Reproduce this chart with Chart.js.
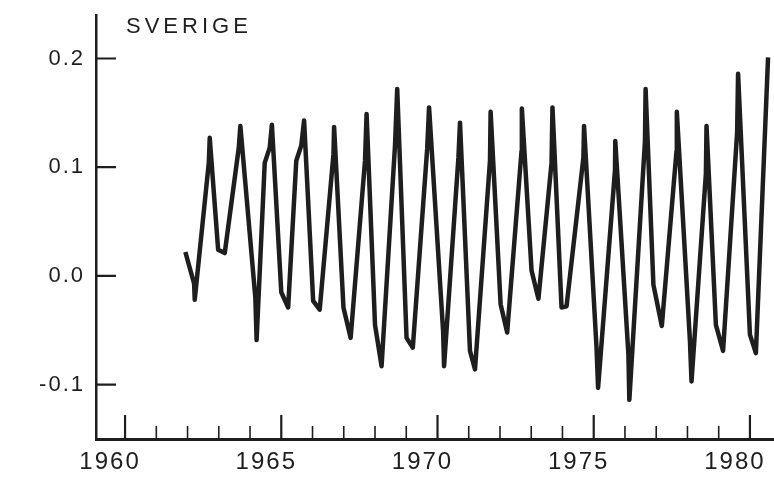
<!DOCTYPE html>
<html>
<head>
<meta charset="utf-8">
<script src="https://cdn.jsdelivr.net/npm/chart.js@4"></script>
<style>
  html, body { margin: 0; padding: 0; background: #fff; }
  #wrap { width: 774px; height: 477px; }
</style>
</head>
<body>
<div id="wrap"><canvas id="chart" width="774" height="477"></canvas></div>
<script>
// turning points of the series (decimal years)
const years = [
  1961.93, 1962.21, 1962.23, 1962.68, 1962.71, 1962.98, 1963.19, 1963.64, 1963.69,
  1964.17, 1964.21, 1964.47, 1964.63, 1964.70, 1965.00, 1965.22, 1965.48, 1965.64,
  1965.73, 1966.02, 1966.23, 1966.67, 1966.69, 1966.99, 1967.22, 1967.68, 1967.73,
  1968.00, 1968.21, 1968.64, 1968.71, 1969.01, 1969.21, 1969.67, 1969.73, 1970.18,
  1970.21, 1970.67, 1970.72, 1971.04, 1971.20, 1971.68, 1971.70, 1972.02, 1972.23,
  1972.69, 1972.70, 1973.01, 1973.23, 1973.65, 1973.68, 1973.97, 1974.13, 1974.67,
  1974.69, 1975.09, 1975.14, 1975.68, 1975.69, 1976.11, 1976.14, 1976.64, 1976.66,
  1976.91, 1977.18, 1977.65, 1977.66, 1978.08, 1978.13, 1978.59, 1978.61, 1978.91,
  1979.14, 1979.59, 1979.62, 1980.00, 1980.19, 1980.58
];
const values = [
  0.022, -0.007, -0.022, 0.104, 0.127, 0.024, 0.021, 0.118, 0.138,
  -0.020, -0.059, 0.104, 0.118, 0.139, -0.015, -0.029, 0.106, 0.120,
  0.143, -0.023, -0.031, 0.112, 0.137, -0.029, -0.057, 0.106, 0.149,
  -0.045, -0.083, 0.120, 0.172, -0.057, -0.066, 0.117, 0.155, -0.051,
  -0.083, 0.109, 0.141, -0.069, -0.086, 0.106, 0.151, -0.026, -0.052,
  0.115, 0.154, 0.005, -0.021, 0.104, 0.155, -0.029, -0.028, 0.109,
  0.138, -0.066, -0.103, 0.097, 0.124, -0.072, -0.114, 0.124, 0.172,
  -0.008, -0.046, 0.115, 0.151, -0.060, -0.097, 0.094, 0.138, -0.045,
  -0.069, 0.132, 0.186, -0.054, -0.071, 0.201
];
const yTicks = [-0.1, 0.0, 0.1, 0.2];
const xMajorTicks = [1960, 1965, 1970, 1975, 1980];
const xMinorTicks = [1961, 1962, 1963, 1964, 1966, 1967, 1968, 1969,
                     1971, 1972, 1973, 1974, 1976, 1977, 1978, 1979];
const title = 'SVERIGE';

const ink = '#1e1e1e';
const font = "'Liberation Sans', Arial, sans-serif";

// the scanned lettering is widely spaced
const spacing = {
  id: 'spacing',
  beforeDraw(chart) { chart.ctx.letterSpacing = '2px'; }
};

// ticks on this chart point inward, so draw them ourselves
const inwardTicks = {
  id: 'inwardTicks',
  afterDatasetsDraw(chart) {
    const { ctx, chartArea, scales } = chart;
    ctx.save();
    ctx.strokeStyle = ink;
    ctx.lineWidth = 2.2;
    ctx.beginPath();
    yTicks.forEach(v => {
      const y = scales.y.getPixelForValue(v);
      ctx.moveTo(chartArea.left, y);
      ctx.lineTo(chartArea.left + 20, y);
    });
    xMajorTicks.forEach(v => {
      const x = scales.x.getPixelForValue(v);
      ctx.moveTo(x, chartArea.bottom);
      ctx.lineTo(x, chartArea.bottom - 24);
    });
    ctx.stroke();
    ctx.lineWidth = 1.6;
    ctx.beginPath();
    xMinorTicks.forEach(v => {
      const x = scales.x.getPixelForValue(v);
      ctx.moveTo(x, chartArea.bottom);
      ctx.lineTo(x, chartArea.bottom - 13);
    });
    ctx.stroke();

    ctx.fillStyle = ink;
    ctx.font = '22px ' + font;
    ctx.letterSpacing = '4px';
    ctx.textBaseline = 'alphabetic';
    ctx.fillText(title, chartArea.left + 30, 33);
    ctx.restore();
  }
};

new Chart(document.getElementById('chart'), {
  type: 'line',
  data: {
    datasets: [{
      data: years.map((t, i) => ({ x: t, y: values[i] })),
      borderColor: ink,
      borderWidth: 4.5,
      borderJoinStyle: 'round',
      pointRadius: 0,
      tension: 0,
      fill: false
    }]
  },
  options: {
    responsive: false,
    animation: false,
    layout: { padding: { top: 15, right: 0, left: 0, bottom: 0 } },
    plugins: { legend: { display: false }, tooltip: { enabled: false } },
    scales: {
      x: {
        type: 'linear',
        min: 1959.07,
        max: 1980.77,
        afterBuildTicks: s => { s.ticks = xMajorTicks.map(v => ({ value: v })); },
        afterFit: s => { s.height = 38; s.paddingLeft = 0; s.paddingRight = 0; },
        grid: { display: false, drawTicks: false },
        border: { display: true, color: ink, width: 3 },
        ticks: {
          color: ink,
          font: { family: font, size: 24 },
          padding: 9,
          labelOffset: -15,
          maxRotation: 0,
          autoSkip: false,
          callback: v => String(v)
        }
      },
      y: {
        min: -0.15,
        max: 0.24,
        afterBuildTicks: s => { s.ticks = yTicks.map(v => ({ value: v })); },
        afterFit: s => { s.width = 96; s.paddingTop = 0; s.paddingBottom = 0; },
        grid: { display: false, drawTicks: false },
        border: { display: true, color: ink, width: 2.5 },
        ticks: {
          color: ink,
          font: { family: font, size: 22 },
          padding: 11,
          callback: v => v.toFixed(1)
        }
      }
    }
  },
  plugins: [spacing, inwardTicks]
});
</script>
</body>
</html>
